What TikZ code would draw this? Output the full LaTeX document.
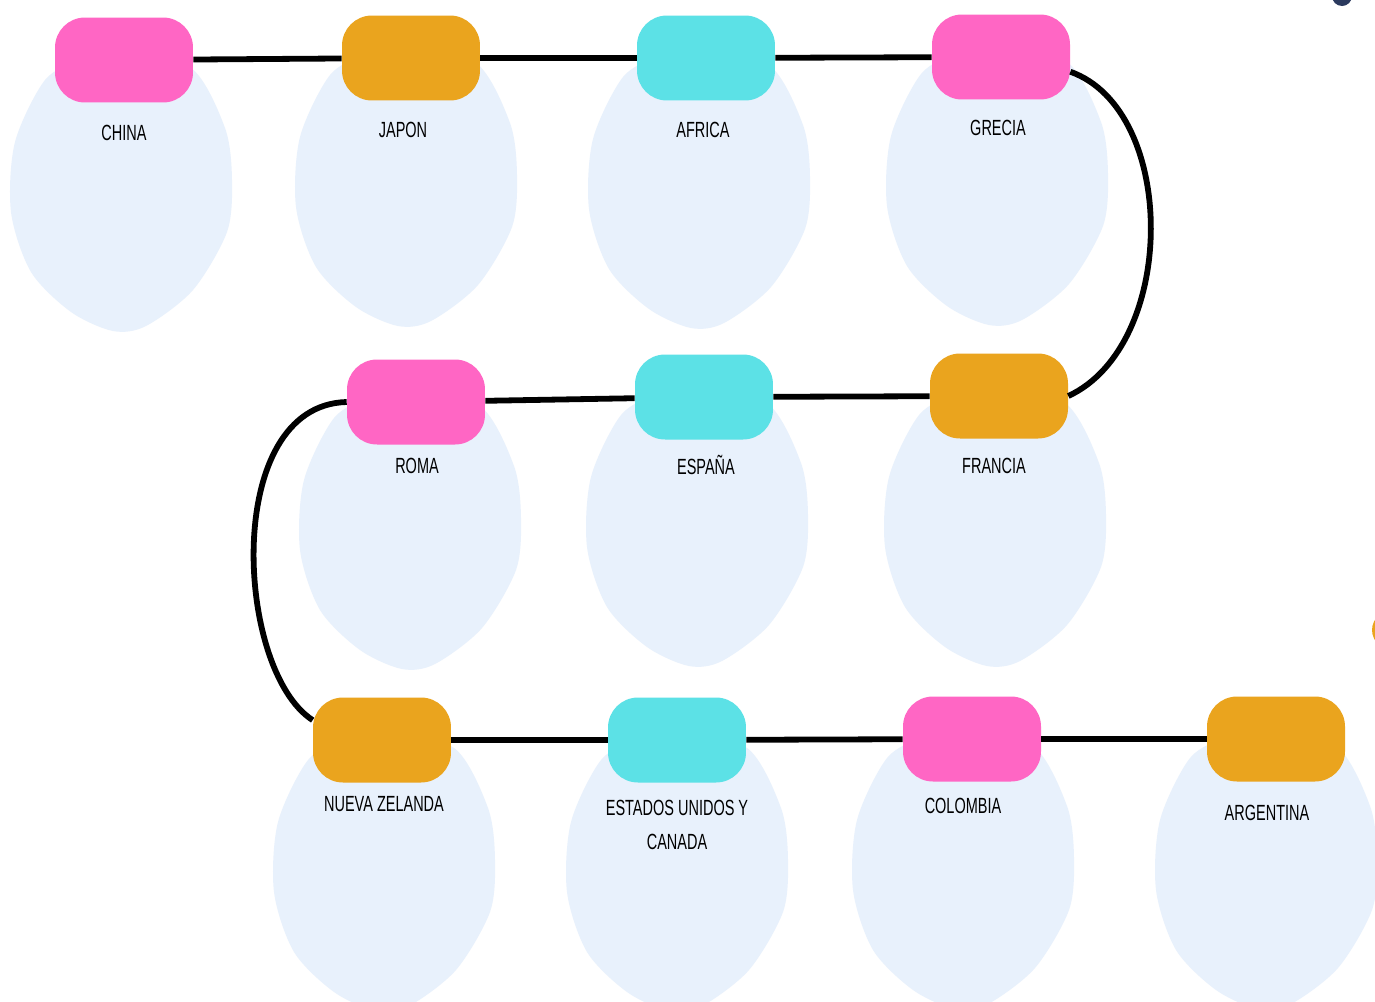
\documentclass[tikz,border=0pt]{standalone}
\usepackage{fontspec}
\setmainfont{Liberation Sans}[FakeStretch=0.66]
\usepackage{tikz}
\definecolor{beadpink}{HTML}{FF66C4}
\definecolor{beadorange}{HTML}{EAA41E}
\definecolor{beadcyan}{HTML}{5CE1E6}
\definecolor{blobblue}{HTML}{E8F1FC}
\definecolor{dotnavy}{HTML}{2B3A5E}
\def\blob{plot[smooth cycle] coordinates {(0,-135) (70,-122) (104,-62) (111,-10) (106,42) (72,100) (25,136) (-8,141) (-50,122) (-90,82) (-110,22) (-106,-48) (-76,-110) (-40,-130)}}
\tikzset{
    bead/.style={rounded corners=0.6cm, minimum width=2.76cm, minimum height=1.7cm, inner sep=0pt},
    lbl/.style={font=\fontsize{12.5}{19.5}\selectfont, text=black, align=center},
    link/.style={line width=3.3pt, black}
}

\begin{document}
\begin{tikzpicture}[x=0.02cm, y=-0.02cm]
    \useasboundingbox (0,0) rectangle (1375,1001);
    \fill[white] (0,0) rectangle (1375,1001);
    \begin{scope}[blobblue]
        \fill[shift={(121,190)}] \blob;
        \fill[shift={(406,185)}] \blob;
        \fill[shift={(699,187)}] \blob;
        \fill[shift={(997,184)}] \blob;
        \fill[shift={(410,528)}] \blob;
        \fill[shift={(697,525)}] \blob;
        \fill[shift={(995,525)}] \blob;
        \fill[shift={(384,870)}] \blob;
        \fill[shift={(677,870)}] \blob;
        \fill[shift={(963,868)}] \blob;
        \fill[shift={(1266,868)}] \blob;
    \end{scope}
    \fill[dotnavy] (1342,-4) circle (10);
    \fill[beadorange] (1398,630) ellipse (26 and 22);

    \node[bead, fill=beadpink] (china) at (124,60) {};
    \node[bead, fill=beadorange] (japon) at (411,58) {};
    \node[bead, fill=beadcyan] (africa) at (706,58) {};
    \node[bead, fill=beadpink] (grecia) at (1001,57) {};
    \node[bead, fill=beadpink] (roma) at (416,402) {};
    \node[bead, fill=beadcyan] (espana) at (704,397) {};
    \node[bead, fill=beadorange] (francia) at (999,396) {};
    \node[bead, fill=beadorange] (nz) at (382,740) {};
    \node[bead, fill=beadcyan] (eeuu) at (677,740) {};
    \node[bead, fill=beadpink] (colombia) at (972,739) {};
    \node[bead, fill=beadorange] (argentina) at (1276,739) {};

    \node[lbl] (chinalbl) at (124,133) {CHINA};
    \node[lbl] (japonlbl) at (403,130) {JAPON};
    \node[lbl] (africalbl) at (703,130) {AFRICA};
    \node[lbl] (grecialbl) at (998,128) {GRECIA};
    \node[lbl] (romalbl) at (417,466) {ROMA};
    \node[lbl] (espanalbl) at (706,465) {ESPAÑA};
    \node[lbl] (francialbl) at (994,466) {FRANCIA};
    \node[lbl] (nzlbl) at (384,804) {NUEVA ZELANDA};
    \node[lbl] (eeuulbl) at (677,825) {ESTADOS UNIDOS Y\\CANADA};
    \node[lbl] (colombialbl) at (963,806) {COLOMBIA};
    \node[lbl] (argentinalbl) at (1267,813) {ARGENTINA};

    \draw[link] (china) -- (japon);
    \draw[link] (japon) -- (africa);
    \draw[link] (africa) -- (grecia);
    \draw[link] (grecia.-12) .. controls (1178,110) and (1178,345) .. (francia.east);
    \draw[link] (francia) -- (espana);
    \draw[link] (espana) -- (roma);
    \draw[link] (roma.west) .. controls (222,405) and (235,670) .. (nz.164);
    \draw[link] (nz) -- (eeuu);
    \draw[link] (eeuu) -- (colombia);
    \draw[link] (colombia) -- (argentina);
\end{tikzpicture}
\end{document}
